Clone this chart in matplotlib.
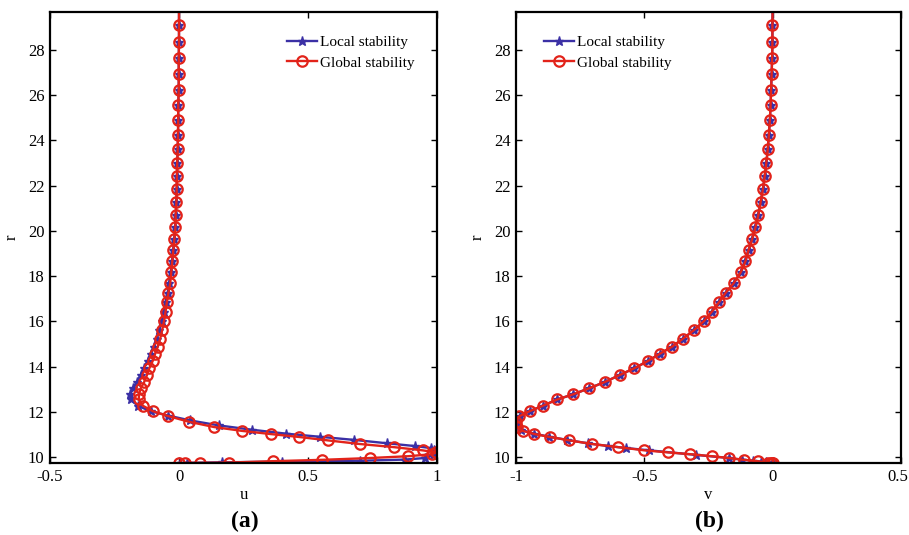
import matplotlib
matplotlib.use("Agg")
import matplotlib.pyplot as plt
import matplotlib.transforms as mtransforms

plt.rcParams['font.family'] = ['Liberation Serif', 'DejaVu Serif']

# ---------------- data ----------------
r_global = [9.740, 9.742, 9.745, 9.76, 9.82, 9.88, 9.96, 10.04, 10.13, 10.21,
            10.30, 10.44, 10.58, 10.74, 10.89, 11.02, 11.16, 11.33, 11.56, 11.81,
            12.03, 12.27, 12.55, 12.77, 13.05, 13.32, 13.63, 13.93, 14.25, 14.58,
            14.89, 15.24, 15.63, 16.01, 16.43, 16.86, 17.27, 17.69, 18.18, 18.66,
            19.15, 19.63, 20.16, 20.69, 21.27, 21.84, 22.42, 22.99, 23.61, 24.23,
            24.89, 25.56, 26.25, 26.95, 27.64, 28.35, 29.12, 30.0]
u_global = [0.000, 0.023, 0.081, 0.195, 0.363, 0.556, 0.740, 0.889, 0.982, 0.997,
            0.944, 0.834, 0.701, 0.577, 0.466, 0.355, 0.244, 0.136, 0.040, -0.041,
            -0.101, -0.140, -0.156, -0.155, -0.148, -0.135, -0.124, -0.115, -0.102, -0.092,
            -0.082, -0.073, -0.065, -0.058, -0.052, -0.047, -0.041, -0.034, -0.030, -0.026,
            -0.022, -0.018, -0.014, -0.013, -0.010, -0.009, -0.008, -0.007, -0.005, -0.004,
            -0.003, -0.003, -0.001, -0.001, -0.001, 0.000, 0.000, 0.000]
v_global = [0.000, -0.003, -0.008, -0.020, -0.059, -0.112, -0.171, -0.237, -0.322, -0.408,
            -0.500, -0.601, -0.704, -0.792, -0.868, -0.928, -0.974, -0.997, -1.000, -0.987,
            -0.947, -0.896, -0.839, -0.779, -0.714, -0.654, -0.596, -0.539, -0.486, -0.438,
            -0.391, -0.349, -0.305, -0.268, -0.237, -0.208, -0.183, -0.152, -0.124, -0.106,
            -0.094, -0.080, -0.067, -0.056, -0.047, -0.038, -0.031, -0.025, -0.019, -0.015,
            -0.011, -0.008, -0.006, -0.004, -0.002, -0.001, -0.001, 0.000]

r_local = [9.740, 9.745, 9.77, 9.80, 9.84, 9.89, 9.96, 10.10, 10.30, 10.40,
           10.49, 10.61, 10.76, 10.90, 11.04, 11.21, 11.40, 11.62, 11.84,
           12.03, 12.27, 12.55, 12.77, 13.05, 13.32, 13.63, 13.93, 14.25, 14.58,
           14.89, 15.24, 15.63, 16.01, 16.43, 16.86, 17.27, 17.69, 18.18, 18.66,
           19.15, 19.63, 20.16, 20.69, 21.27, 21.84, 22.42, 22.99, 23.61, 24.23,
           24.89, 25.56, 26.25, 26.95, 27.64, 28.35, 29.12, 30.0]
u_local = [0.003, 0.030, 0.168, 0.400, 0.700, 0.875, 0.952, 0.984, 0.990, 0.976,
           0.913, 0.808, 0.680, 0.545, 0.413, 0.283, 0.156, 0.044, -0.043,
           -0.110, -0.160, -0.186, -0.190, -0.178, -0.163, -0.149, -0.136, -0.122, -0.110,
           -0.098, -0.087, -0.076, -0.067, -0.059, -0.052, -0.044, -0.037, -0.032, -0.027,
           -0.022, -0.018, -0.015, -0.013, -0.010, -0.009, -0.008, -0.007, -0.005, -0.004,
           -0.003, -0.003, -0.001, -0.001, -0.001, 0.000, 0.000, 0.000]
v_local = [0.000, -0.004, -0.025, -0.045, -0.075, -0.120, -0.170, -0.300, -0.480, -0.570,
           -0.640, -0.720, -0.800, -0.870, -0.930, -0.980, -0.998, -0.998, -0.985,
           -0.947, -0.896, -0.839, -0.779, -0.714, -0.654, -0.596, -0.539, -0.486, -0.438,
           -0.391, -0.349, -0.305, -0.268, -0.237, -0.208, -0.183, -0.152, -0.124, -0.106,
           -0.094, -0.080, -0.067, -0.056, -0.047, -0.038, -0.031, -0.025, -0.019, -0.015,
           -0.011, -0.008, -0.006, -0.004, -0.002, -0.001, -0.001, 0.000]

y_ticks = [10, 12, 14, 16, 18, 20, 22, 24, 26, 28]
x_ticks_a = [-0.5, 0, 0.5, 1]
x_ticks_b = [-1, -0.5, 0, 0.5]
x_ticklabels_a = ['-0.5', '0', '0.5', '1']
x_ticklabels_b = ['-1', '-0.5', '0', '0.5']

# ---------------- style ----------------
BLUE = '#3b30a5'
RED = '#e2231a'
W, H = 909, 535

fig = plt.figure(figsize=(W / 100, H / 100), dpi=100)
ax1 = fig.add_axes([50 / W, 1 - 463 / H, 387 / W, 451 / H])
ax2 = fig.add_axes([516 / W, 1 - 463 / H, 385 / W, 451 / H])


def style(ax, xlim, xticks, xticklabels, xlabel):
    ax.set_xlim(*xlim)
    ax.set_ylim(9.74, 29.68)
    ax.set_xticks(xticks)
    ax.set_xticklabels(xticklabels)
    ax.set_yticks(y_ticks)
    ax.tick_params(direction='in', top=True, right=True, length=4, width=1,
                   labelsize=12, pad=4, colors='black')
    for s in ax.spines.values():
        s.set_linewidth(1.6)
    ax.set_xlabel(xlabel, fontsize=12, va='center')
    ax.xaxis.set_label_coords(0.5, (463 - 495) / 451)
    ax.set_ylabel('r', fontsize=12, va='center')
    ax.yaxis.set_label_coords((12 - 50) / 387, 0.5)


def draw(ax, xl, xg):
    ax.plot(xl, r_local, color=BLUE, lw=1.7, marker='*', ms=6.5,
            mfc=BLUE, mec=BLUE, label='Local stability')
    ax.plot(xg, r_global, color=RED, lw=1.7, marker='o', ms=7.5,
            mfc='none', mec=RED, mew=1.6, label='Global stability')


# panel (a)
draw(ax1, u_local, u_global)
style(ax1, (-0.5, 1), x_ticks_a, x_ticklabels_a, 'u')
ax1.legend(loc='upper left', bbox_to_anchor=(0.592, 0.965), frameon=False,
           fontsize=11, numpoints=1, handlelength=2.0, handletextpad=0.15,
           borderpad=0, labelspacing=0.45)

# panel (b)
draw(ax2, v_local, v_global)
style(ax2, (-1, 0.5), x_ticks_b, x_ticklabels_b, 'v')
ax2.legend(loc='upper left', bbox_to_anchor=(0.052, 0.965), frameon=False,
           fontsize=11, numpoints=1, handlelength=2.0, handletextpad=0.15,
           borderpad=0, labelspacing=0.45)

# keep the last tick label of panel (b) inside the figure
last = ax2.get_xticklabels()[-1]
last.set_transform(last.get_transform() +
                   mtransforms.ScaledTranslation(-3 / 100, 0, fig.dpi_scale_trans))

fig.text(245 / W, 1 - 521 / H, '(a)', ha='center', va='center',
         fontsize=17, fontweight='bold')
fig.text(709 / W, 1 - 521 / H, '(b)', ha='center', va='center',
         fontsize=17, fontweight='bold')

fig.savefig('out.png', dpi=100)
